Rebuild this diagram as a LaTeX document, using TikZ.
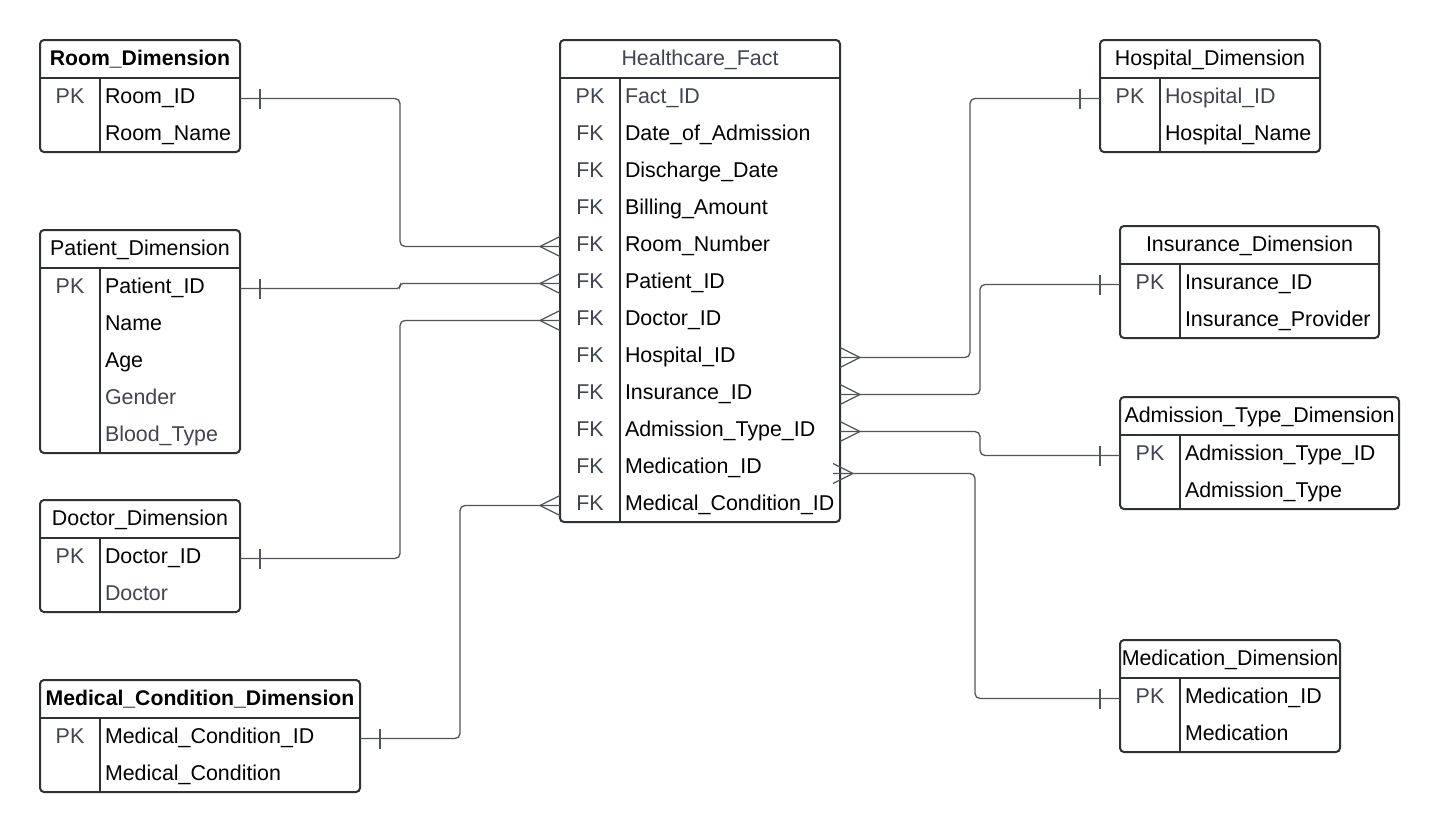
\documentclass[tikz,border=0pt]{standalone}
\usepackage{fontspec}
\setmainfont{Liberation Sans}
\usetikzlibrary{calc}
\definecolor{bordc}{HTML}{2E3136}
\definecolor{graytxt}{HTML}{3E4651}
\definecolor{linec}{HTML}{50555C}
\tikzset{
  tabbox/.style={draw=bordc, line width=2pt, rounded corners=4pt, inner sep=0pt, outer sep=0pt, anchor=north west, fill=white},
  sepline/.style={draw=bordc, line width=2pt},
  txtbase/.style={font=\fontsize{21.4}{25}\selectfont, inner sep=0pt, outer sep=0pt, text height=15pt, text depth=0pt},
  hdr/.style={txtbase, text=black},
  hdrg/.style={txtbase, text=graytxt},
  hdrb/.style={txtbase, text=black, font=\fontsize{21.2}{25}\selectfont\bfseries},
  fld/.style={txtbase, anchor=west, text=black},
  fldg/.style={txtbase, anchor=west, text=graytxt},
  keyt/.style={txtbase, text=graytxt},
  conn/.style={draw=linec, line width=1.3pt, rounded corners=5pt},
  endmark/.style={draw=linec, line width=1.3pt}
}
% table: name, left, top, right, nrows, header style, header text
\newcommand{\ertable}[7]{%
  \node[tabbox, minimum width={(#4-#2)*1pt}, minimum height={(38+37*#5)*1pt}] (#1) at (#2,#3) {};
  \draw[sepline] ($(#1.north west)+(0,38)$) -- ($(#1.north east)+(0,38)$);
  \draw[sepline] ($(#1.north west)+(60,38)$) -- ($(#1.south west)+(60,0)$);
  \node[#6] (#1-title) at ($(#1.north)+(0,17.5)$) {#7};
}
% row: table, index, id, style, text
\newcommand{\errow}[5]{%
  \node[#4] (#3) at ($(#1.north west)+(65,{55.8+37*#2})$) {#5};
}
% key: table, index, text
\newcommand{\erkey}[3]{%
  \node[keyt] (#1-key#2) at ($(#1.north west)+(30,{55.8+37*#2})$) {#3};
}
\newcommand{\crowleft}[1]{%
  \draw[endmark] ($(#1)+(-20,0)$) -- ($(#1)+(0,-10)$) ($(#1)+(-20,0)$) -- ($(#1)+(0,10)$);
}
\newcommand{\crowright}[1]{%
  \draw[endmark] ($(#1)+(20,0)$) -- ($(#1)+(0,-10)$) ($(#1)+(20,0)$) -- ($(#1)+(0,10)$);
}
\newcommand{\barmark}[2]{%
  \draw[endmark] ($(#1)+(#2,-10)$) -- ($(#1)+(#2,10)$);
}
\begin{document}
\begin{tikzpicture}[x=1pt, y=-1pt]
\useasboundingbox (0,0) rectangle (1440,833);
\fill[white] (0,0) rectangle (1440,833);

% ---------- tables ----------
\ertable{room}{40}{40}{240}{2}{hdrb}{Room\_Dimension}
\erkey{room}{0}{PK}
\errow{room}{0}{rRoomID}{fld}{Room\_ID}
\errow{room}{1}{rRoomName}{fld}{Room\_Name}

\ertable{patient}{40}{230}{240}{5}{hdr}{Patient\_Dimension}
\erkey{patient}{0}{PK}
\errow{patient}{0}{pPatID}{fld}{Patient\_ID}
\errow{patient}{1}{pName}{fld}{Name}
\errow{patient}{2}{pAge}{fld}{Age}
\errow{patient}{3}{pGender}{fldg}{Gender}
\errow{patient}{4}{pBlood}{fldg}{Blood\_Type}

\ertable{doctor}{40}{500}{240}{2}{hdr}{Doctor\_Dimension}
\erkey{doctor}{0}{PK}
\errow{doctor}{0}{dDocID}{fld}{Doctor\_ID}
\errow{doctor}{1}{dDoc}{fldg}{Doctor}

\ertable{medcond}{40}{680}{360}{2}{hdrb}{Medical\_Condition\_Dimension}
\erkey{medcond}{0}{PK}
\errow{medcond}{0}{mcID}{fld}{Medical\_Condition\_ID}
\errow{medcond}{1}{mcName}{fld}{Medical\_Condition}

\ertable{fact}{560}{40}{840}{12}{hdrg}{Healthcare\_Fact}
\erkey{fact}{0}{PK}
\errow{fact}{0}{fFactID}{fldg}{Fact\_ID}
\erkey{fact}{1}{FK}
\errow{fact}{1}{fDateAdm}{fld}{Date\_of\_Admission}
\erkey{fact}{2}{FK}
\errow{fact}{2}{fDisch}{fld}{Discharge\_Date}
\erkey{fact}{3}{FK}
\errow{fact}{3}{fBill}{fld}{Billing\_Amount}
\erkey{fact}{4}{FK}
\errow{fact}{4}{fRoom}{fld}{Room\_Number}
\erkey{fact}{5}{FK}
\errow{fact}{5}{fPat}{fld}{Patient\_ID}
\erkey{fact}{6}{FK}
\errow{fact}{6}{fDoc}{fld}{Doctor\_ID}
\erkey{fact}{7}{FK}
\errow{fact}{7}{fHosp}{fld}{Hospital\_ID}
\erkey{fact}{8}{FK}
\errow{fact}{8}{fIns}{fld}{Insurance\_ID}
\erkey{fact}{9}{FK}
\errow{fact}{9}{fAdm}{fld}{Admission\_Type\_ID}
\erkey{fact}{10}{FK}
\errow{fact}{10}{fMed}{fld}{Medication\_ID}
\erkey{fact}{11}{FK}
\errow{fact}{11}{fMC}{fld}{Medical\_Condition\_ID}

\ertable{hosp}{1100}{40}{1320}{2}{hdr}{Hospital\_Dimension}
\erkey{hosp}{0}{PK}
\errow{hosp}{0}{hID}{fldg}{Hospital\_ID}
\errow{hosp}{1}{hName}{fld}{Hospital\_Name}

\ertable{ins}{1120}{226}{1379}{2}{hdr}{Insurance\_Dimension}
\erkey{ins}{0}{PK}
\errow{ins}{0}{iID}{fld}{Insurance\_ID}
\errow{ins}{1}{iProv}{fld}{Insurance\_Provider}

\ertable{adm}{1120}{397}{1399}{2}{hdr}{Admission\_Type\_Dimension}
\erkey{adm}{0}{PK}
\errow{adm}{0}{aID}{fld}{Admission\_Type\_ID}
\errow{adm}{1}{aType}{fld}{Admission\_Type}

\ertable{med}{1120}{640}{1340}{2}{hdr}{Medication\_Dimension}
\erkey{med}{0}{PK}
\errow{med}{0}{meID}{fld}{Medication\_ID}
\errow{med}{1}{meName}{fld}{Medication}

% ---------- junction columns ----------
\coordinate (jL1) at (400,0);
\coordinate (jL2) at (460,0);
\coordinate (jR1) at (970,0);
\coordinate (jR2) at (980,0);
\coordinate (jR3) at (975,0);

% ---------- left connectors ----------
\coordinate (cRoomA) at ($(room.east |- rRoomID)+(0,2.7)$);
\coordinate (cRoomB) at ($(fact.west |- fRoom)+(0,2.7)$);
\draw[conn] (cRoomA) -| (cRoomB -| jL1) -- (cRoomB);
\barmark{cRoomA}{20}
\crowleft{cRoomB}

\coordinate (cPatA) at ($(patient.east |- pPatID)+(0,2.7)$);
\coordinate (cPatB) at ($(fact.west |- fPat)+(0,2.7)$);
\draw[conn, rounded corners=3pt] (cPatA) -| (cPatB -| jL1) -- (cPatB);
\barmark{cPatA}{20}
\crowleft{cPatB}

\coordinate (cDocA) at ($(doctor.east |- dDocID)+(0,2.7)$);
\coordinate (cDocB) at ($(fact.west |- fDoc)+(0,2.7)$);
\draw[conn] (cDocA) -| (cDocB -| jL1) -- (cDocB);
\barmark{cDocA}{20}
\crowleft{cDocB}

\coordinate (cMCA) at ($(medcond.east |- mcID)+(0,2.7)$);
\coordinate (cMCB) at ($(fact.west |- fMC)+(0,2.7)$);
\draw[conn] (cMCA) -| (cMCB -| jL2) -- (cMCB);
\barmark{cMCA}{20}
\crowleft{cMCB}

% ---------- right connectors ----------
\coordinate (cHospA) at ($(fact.east |- fHosp)+(0,2.7)$);
\coordinate (cHospB) at ($(hosp.west |- hID)+(0,2.7)$);
\draw[conn] (cHospA) -| (cHospB -| jR1) -- (cHospB);
\crowright{cHospA}
\barmark{cHospB}{-20}

\coordinate (cInsA) at ($(fact.east |- fIns)+(0,2.7)$);
\coordinate (cInsB) at ($(ins.west |- iID)+(0,2.7)$);
\draw[conn] (cInsA) -| (cInsB -| jR2) -- (cInsB);
\crowright{cInsA}
\barmark{cInsB}{-20}

\coordinate (cAdmA) at ($(fact.east |- fAdm)+(0,2.7)$);
\coordinate (cAdmB) at ($(adm.west |- aID)+(0,2.7)$);
\draw[conn] (cAdmA) -| (cAdmB -| jR2) -- (cAdmB);
\crowright{cAdmA}
\barmark{cAdmB}{-20}

\coordinate (cMedA) at ($(fact.east |- fMed)+(-7,7.7)$);
\coordinate (cMedB) at ($(med.west |- meID)+(0,2.7)$);
\draw[conn] (cMedA) -| (cMedB -| jR3) -- (cMedB);
\crowright{cMedA}
\barmark{cMedB}{-20}
\end{tikzpicture}
\end{document}
